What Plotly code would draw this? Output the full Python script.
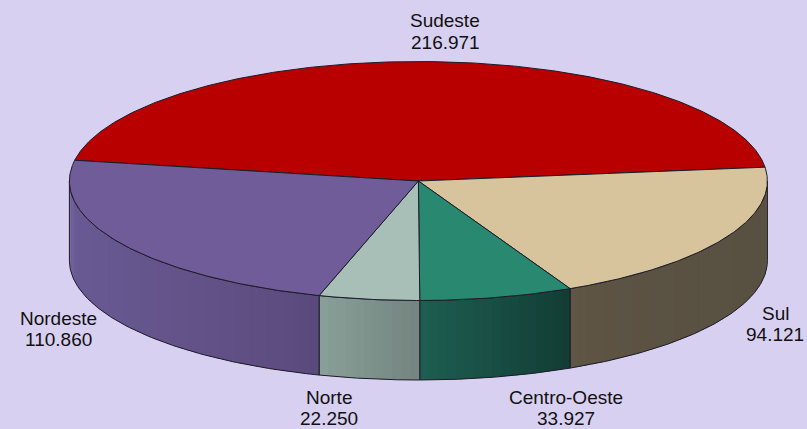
import numpy as np
import plotly.graph_objects as go

categories = ["Sudeste", "Sul", "Centro-Oeste", "Norte", "Nordeste"]
values = [216.971, 94.121, 33.927, 22.250, 110.860]

# Styles / geometry (pixel scale of the plot)
top_colors = ["#B80000", "#D8C49C", "#288870", "#A8BFB8", "#705C98"]
side_left = ["#7A0000", "#645A4A", "#1E5E52", "#88A098", "#6A5A94"]
side_right = ["#7A0000", "#585040", "#123C34", "#748480", "#5A4A7C"]
side_gamma = [1, 0.25, 1, 1, 1]
label_pos = [(445, 31.5), (775, 324), (566, 408), (329, 408), (58, 329)]
BG = "#D8D0F0"
EDGE = "#1C1C28"
CX, CY, RX, RY, DEPTH = 418.4, 181, 349, 119.5, 79.5
START = 170
LINE_GAP = 21.5
FONT = dict(family="Liberation Sans, Arial, sans-serif", size=19, color="#111111")


def ex(t):
    return CX + RX * np.cos(np.radians(t))


def ey(t):
    return CY - RY * np.sin(np.radians(t))


def hexrgb(h):
    return np.array([int(h[i:i + 2], 16) for i in (1, 3, 5)], float)


def mix(a, b, f):
    c = hexrgb(a) * (1 - f) + hexrgb(b) * f
    return "rgb(%d,%d,%d)" % tuple(c.round())


total = sum(values)
spans = [v / total * 360 for v in values]
starts = START - np.concatenate([[0], np.cumsum(spans)[:-1]])
ends = starts - np.array(spans)

fig = go.Figure()


def poly(x, y, fill=None, line=None, width=1):
    fig.add_trace(go.Scatter(
        x=list(x), y=list(y), mode="lines", hoverinfo="skip", showlegend=False,
        fill="toself" if fill else "none", fillcolor=fill,
        line=dict(color=line or "rgba(0,0,0,0)", width=width if line else 0),
    ))


# Side walls: only the front half of the ellipse (angles 0 .. -180, right to left)
for a, b, cl, cr, g in zip(starts, ends, side_left, side_right, side_gamma):
    s = min(a, 0.0)
    e = max(b, -180.0)
    if s <= e:
        continue
    n = max(int((s - e) / 1.5), 2)
    grid = np.linspace(s, e, n + 1)
    x_left, x_right = ex(e), ex(s)
    for t0, t1 in zip(grid[:-1], grid[1:]):
        f = (((ex(t0) + ex(t1)) / 2 - x_left) / (x_right - x_left))
        ts = np.linspace(t0, max(t1 - 0.5, e), 4)
        xs = np.concatenate([ex(ts), ex(ts)[::-1]])
        ys = np.concatenate([ey(ts), ey(ts)[::-1] + DEPTH])
        poly(xs, ys, fill=mix(cl, cr, f ** g))
    # wall outline
    ts = np.linspace(s, e, 100)
    xs = np.concatenate([ex(ts), ex(ts)[::-1], [ex(ts[0])]])
    ys = np.concatenate([ey(ts), ey(ts)[::-1] + DEPTH, [ey(ts[0])]])
    poly(xs, ys, line=EDGE)

# Top faces
for a, b, c in zip(starts, ends, top_colors):
    ts = np.linspace(a, b, max(int(abs(a - b)), 2) * 2)
    xs = np.concatenate([[CX], ex(ts), [CX]])
    ys = np.concatenate([[CY], ey(ts), [CY]])
    poly(xs, ys, fill=c, line=EDGE)

annotations = []
for cat, val, (x, y) in zip(categories, values, label_pos):
    for txt, yy in ((cat, y - LINE_GAP / 2), (f"{val:.3f}", y + LINE_GAP / 2)):
        annotations.append(dict(x=x, y=yy, text=txt, showarrow=False, xanchor="center",
                                yanchor="middle", font=FONT))

fig.update_layout(
    width=807, height=429, margin=dict(l=0, r=0, t=0, b=0),
    paper_bgcolor=BG, plot_bgcolor=BG, showlegend=False,
    xaxis=dict(range=[0, 807], visible=False, fixedrange=True),
    yaxis=dict(range=[429, 0], visible=False, fixedrange=True),
    annotations=annotations,
)
fig.write_html(
    "out.html",
    config={"displayModeBar": False},
    post_script="document.body.style.margin='0';document.body.style.background='%s';" % BG,
)
